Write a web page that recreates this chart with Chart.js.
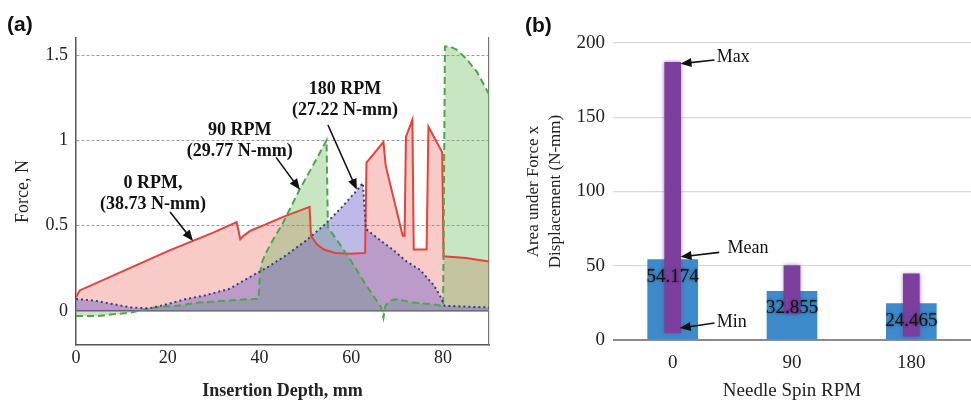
<!DOCTYPE html>
<html>
<head>
<meta charset="utf-8">
<script src="https://cdn.jsdelivr.net/npm/chart.js@4.4.1/dist/chart.umd.min.js"></script>
<style>
html, body { margin:0; padding:0; background:#fff; }
#wrap { position:relative; width:971px; height:402px; }
#boxA { position:absolute; left:0; top:0; width:500px; height:402px; }
#boxB { position:absolute; left:500px; top:0; width:471px; height:402px; }
</style>
</head>
<body>
<div id="wrap">
  <div id="boxA"><canvas id="chartA"></canvas></div>
  <div id="boxB"><canvas id="chartB"></canvas></div>
</div>
<script>
// (a) force along the insertion, one curve per spin speed
const depth0   = [0, 0.8, 10, 20, 30, 35, 35.8, 36.5, 38, 40.7, 45, 50.9, 51.2, 52.5, 54, 56.5, 60, 63, 63.3, 67, 67.5, 71.2, 71.6, 71.9, 73.3, 73.6, 76.4, 76.8, 79.8, 80.1, 85, 90];
const force0   = [0.08, 0.12, 0.23, 0.35, 0.46, 0.52, 0.42, 0.44, 0.47, 0.50, 0.55, 0.61, 0.44, 0.39, 0.36, 0.34, 0.335, 0.34, 0.87, 0.99, 0.85, 0.44, 0.44, 1.02, 1.12, 0.36, 0.36, 1.08, 0.93, 0.32, 0.31, 0.29];
const depth90  = [0, 5, 8, 12, 17, 22, 27, 33, 38, 39.8, 40.1, 40.6, 41.4, 43, 45, 48.7, 52, 54.6, 54.9, 57, 60, 63, 66.5, 67, 67.4, 68.5, 70, 73, 77, 80, 80.4, 81.5, 83, 85, 87.4, 90];
const force90  = [-0.03, -0.03, -0.02, -0.01, 0.02, 0.03, 0.05, 0.06, 0.07, 0.07, 0.22, 0.29, 0.34, 0.42, 0.51, 0.71, 0.87, 1.0, 0.49, 0.41, 0.29, 0.16, 0.02, -0.04, 0.03, 0.06, 0.07, 0.05, 0.04, 0.03, 1.55, 1.55, 1.53, 1.48, 1.40, 1.27];
const depth180 = [0, 4, 8, 12, 16, 20, 24, 28, 33.5, 38, 42, 46, 50, 54, 58, 61, 62.5, 63.2, 66, 69, 72, 75, 78, 79.5, 80.3, 85, 90];
const force180 = [0.07, 0.06, 0.04, 0.02, 0.015, 0.04, 0.07, 0.09, 0.13, 0.20, 0.26, 0.33, 0.41, 0.50, 0.61, 0.70, 0.75, 0.48, 0.42, 0.36, 0.29, 0.24, 0.15, 0.08, 0.03, 0.025, 0.02];
const depthTicks = [0, 20, 40, 60, 80];
const forceTicks = [0, 0.5, 1, 1.5];

// (b) area under force x displacement
const spinRpm  = ['0', '90', '180'];
const areaMean = [54.174, 32.855, 24.465];
const areaMin  = [5, 18, 2.5];
const areaMax  = [187, 50, 44.5];
const areaTicks = [0, 50, 100, 150, 200];

const serif = "'Liberation Serif', 'Times New Roman', serif";
const sans = "'Liberation Sans', Arial, sans-serif";
Chart.defaults.font.family = serif;
Chart.defaults.color = '#222';

const pts = (xs, ys) => xs.map((x, i) => ({ x: x, y: ys[i] }));
const fixTicks = list => scale => { scale.ticks = list.map(v => ({ value: v })); };

// text, arrows and panel letter drawn on top of the plot
const notes = {
  id: 'notes',
  beforeDatasetDraw(chart, args, opts) {
    if (opts.glow && args.index === opts.glow.index) {
      chart.ctx.save();
      chart.ctx.shadowColor = opts.glow.color;
      chart.ctx.shadowBlur = 4;
    }
  },
  afterDatasetDraw(chart, args, opts) {
    if (opts.glow && args.index === opts.glow.index) chart.ctx.restore();
  },
  afterDatasetsDraw(chart, args, opts) {
    const ctx = chart.ctx, xs = chart.scales.x, ys = chart.scales.y;
    ctx.save();
    (opts.arrows || []).forEach(a => {
      const x1 = xs.getPixelForValue(a[0]), y1 = ys.getPixelForValue(a[1]);
      const x2 = xs.getPixelForValue(a[2]), y2 = ys.getPixelForValue(a[3]);
      const ang = Math.atan2(y2 - y1, x2 - x1), c = Math.cos(ang), s = Math.sin(ang);
      ctx.strokeStyle = '#111';
      ctx.lineWidth = 1.6;
      ctx.beginPath();
      ctx.moveTo(x1, y1);
      ctx.lineTo(x2 - 8 * c, y2 - 8 * s);
      ctx.stroke();
      ctx.fillStyle = '#111';
      ctx.beginPath();
      ctx.moveTo(x2, y2);
      ctx.lineTo(x2 - 11 * c + 4.5 * s, y2 - 11 * s - 4.5 * c);
      ctx.lineTo(x2 - 11 * c - 4.5 * s, y2 - 11 * s + 4.5 * c);
      ctx.closePath();
      ctx.fill();
    });
    ctx.font = opts.font;
    ctx.fillStyle = '#111';
    ctx.textAlign = opts.align;
    ctx.textBaseline = 'middle';
    (opts.texts || []).forEach(t => {
      const x = xs.getPixelForValue(t.x), y = ys.getPixelForValue(t.y);
      t.lines.forEach((line, i) => ctx.fillText(line, x, y + i * opts.lineGap));
    });
    if (opts.values) {
      const meta = chart.getDatasetMeta(opts.values.index);
      const vals = chart.data.datasets[opts.values.index].data;
      ctx.font = '19px ' + serif;
      ctx.textAlign = 'center';
      ctx.shadowColor = 'rgba(0,0,0,0.55)';
      ctx.shadowBlur = 3;
      meta.data.forEach((el, i) => ctx.fillText(vals[i].toFixed(3), el.x, el.y + 17));
      ctx.shadowBlur = 0;
    }
    ctx.restore();
  },
  afterDraw(chart, args, opts) {
    const ctx = chart.ctx;
    ctx.save();
    ctx.font = 'bold 21px ' + sans;
    ctx.fillStyle = '#111';
    ctx.textAlign = 'left';
    ctx.textBaseline = 'alphabetic';
    ctx.fillText(opts.letter.text, opts.letter.x, opts.letter.y);
    ctx.restore();
  }
};

new Chart(document.getElementById('chartA'), {
  type: 'line',
  data: {
    datasets: [
      {
        label: '0 RPM',
        data: pts(depth0, force0),
        borderColor: '#e3433b',
        borderWidth: 2,
        backgroundColor: 'rgba(236,96,88,0.33)',
        fill: 'origin',
        pointRadius: 0,
        tension: 0,
        order: 3
      },
      {
        label: '90 RPM',
        data: pts(depth90, force90),
        borderColor: '#4ca64a',
        borderWidth: 2,
        borderDash: [7, 4],
        backgroundColor: 'rgba(110,190,95,0.38)',
        fill: 'origin',
        pointRadius: 0,
        tension: 0,
        order: 2
      },
      {
        label: '180 RPM',
        data: pts(depth180, force180),
        borderColor: '#3b3b85',
        borderWidth: 2,
        borderDash: [2, 3],
        backgroundColor: 'rgba(100,90,200,0.42)',
        fill: 'origin',
        pointRadius: 0,
        tension: 0,
        order: 1
      }
    ]
  },
  options: {
    responsive: true,
    maintainAspectRatio: false,
    animation: false,
    layout: { padding: { top: 38, right: 11, left: 0, bottom: 0 } },
    plugins: {
      legend: { display: false },
      tooltip: { enabled: false },
      filler: { drawTime: 'beforeDatasetsDraw' },
      notes: {
        letter: { text: '(a)', x: 7, y: 31 },
        font: 'bold 18px ' + serif,
        align: 'center',
        lineGap: 21,
        texts: [
          { x: 16.8, y: 0.75, lines: ['0 RPM,', '(38.73 N-mm)'] },
          { x: 35.7, y: 1.058, lines: ['90 RPM', '(29.77 N-mm)'] },
          { x: 58.6, y: 1.297, lines: ['180 RPM', '(27.22 N-mm)'] }
        ],
        arrows: [[20.5, 0.58, 25.5, 0.41], [43.6, 0.90, 48.8, 0.71], [54.9, 1.09, 61.2, 0.71]]
      }
    },
    scales: {
      x: {
        type: 'linear',
        min: 0,
        max: 90,
        afterBuildTicks: fixTicks(depthTicks),
        afterFit: s => { s.height = 57; },
        grid: { display: false, drawTicks: false },
        border: { display: true, color: '#555', width: 1.5 },
        ticks: { padding: 2, font: { size: 18 } },
        title: { display: true, text: 'Insertion Depth, mm', font: { size: 18, weight: 'bold' }, padding: 0 }
      },
      y: {
        min: -0.2,
        max: 1.6,
        afterBuildTicks: fixTicks(forceTicks),
        afterFit: s => { s.width = 76; },
        grid: {
          drawTicks: false,
          color: c => (c.tick && c.tick.value === 0) ? '#4a4a4a' : '#9a9a9a',
          lineWidth: c => (c.tick && c.tick.value === 0) ? 1.6 : 1
        },
        border: { display: true, color: '#555', width: 1.5, dash: c => (c.tick && c.tick.value === 0) ? [] : [3, 2] },
        ticks: { padding: 8, font: { size: 18 }, callback: v => String(v) },
        title: { display: true, text: 'Force, N', font: { size: 18 }, padding: { top: 12, bottom: 0 } }
      },
      y2: {
        position: 'right',
        min: -0.2,
        max: 1.6,
        afterFit: s => { s.width = 0; },
        grid: { display: false, drawTicks: false },
        border: { display: true, color: '#777', width: 1.2 },
        ticks: { display: false }
      }
    }
  },
  plugins: [notes]
});

new Chart(document.getElementById('chartB'), {
  type: 'bar',
  data: {
    labels: spinRpm,
    datasets: [
      {
        label: 'Mean',
        data: areaMean,
        backgroundColor: '#3d8bcb',
        barThickness: 50,
        grouped: false,
        order: 2
      },
      {
        label: 'Min - Max',
        data: areaMin.map((m, i) => [m, areaMax[i]]),
        backgroundColor: '#7c3f9e',
        barThickness: 16,
        grouped: false,
        order: 1
      }
    ]
  },
  options: {
    responsive: true,
    maintainAspectRatio: false,
    animation: false,
    layout: { padding: { top: 43, right: 0, left: 0, bottom: 0 } },
    plugins: {
      legend: { display: false },
      tooltip: { enabled: false },
      notes: {
        letter: { text: '(b)', x: 25, y: 32 },
        font: '18px ' + serif,
        align: 'left',
        lineGap: 0,
        glow: { index: 1, color: 'rgba(110,50,140,0.6)' },
        values: { index: 0 },
        texts: [
          { x: 0.37, y: 190.5, lines: ['Max'] },
          { x: 0.46, y: 62, lines: ['Mean'] },
          { x: 0.37, y: 12, lines: ['Min'] }
        ],
        arrows: [[0.35, 188.5, 0.066, 186], [0.39, 59, 0.066, 56], [0.35, 11.4, 0.058, 8]]
      }
    },
    scales: {
      x: {
        afterFit: s => { s.height = 62; },
        grid: { display: false, drawTicks: false },
        border: { display: false },
        ticks: { padding: 12, font: { size: 19 } },
        title: { display: true, text: 'Needle Spin RPM', font: { size: 19 }, padding: 0 }
      },
      y: {
        min: 0,
        max: 200,
        afterBuildTicks: fixTicks(areaTicks),
        afterFit: s => { s.width = 113; },
        grid: {
          drawTicks: false,
          color: c => (c.tick && c.tick.value === 0) ? '#8a8a8a' : '#d9d9d9',
          lineWidth: c => (c.tick && c.tick.value === 0) ? 2 : 1.2
        },
        border: { display: false },
        ticks: { padding: 8, font: { size: 19 } },
        title: {
          display: true,
          text: ['Area under Force x', 'Displacement (N-mm)'],
          font: { size: 17, lineHeight: 1.3 },
          padding: { top: 22, bottom: 0 }
        }
      }
    }
  },
  plugins: [notes]
});
</script>
</body>
</html>
